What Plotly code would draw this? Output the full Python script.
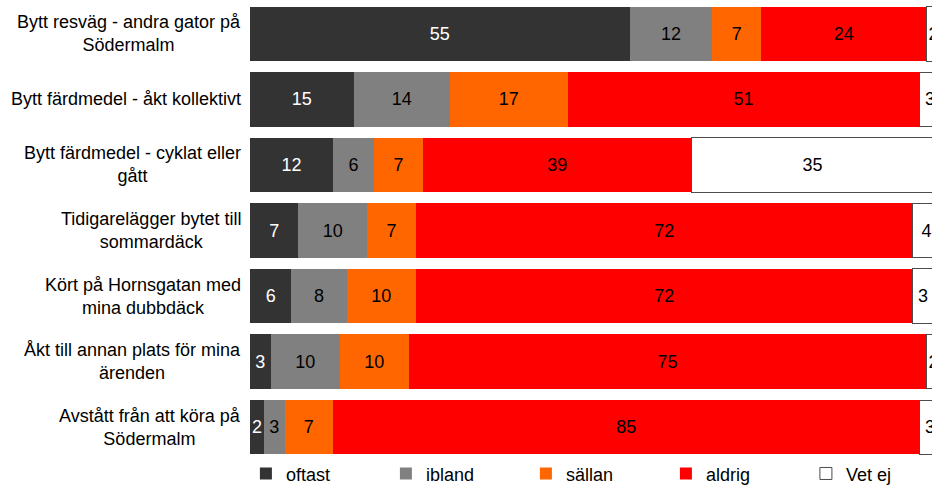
import plotly.graph_objects as go

# Survey statements (top to bottom) and answer shares in percent
categories = [
    "Bytt resväg - andra gator på<br>Södermalm",
    "Bytt färdmedel - åkt kollektivt",
    "Bytt färdmedel - cyklat eller<br>gått",
    "Tidigarelägger bytet till<br>sommardäck",
    "Kört på Hornsgatan med<br>mina dubbdäck",
    "Åkt till annan plats för mina<br>ärenden",
    "Avstått från att köra på<br>Södermalm",
]

oftast = [55, 15, 12, 7, 6, 3, 2]
ibland = [12, 14, 6, 10, 8, 10, 3]
sallan = [7, 17, 7, 7, 10, 10, 7]
aldrig = [24, 51, 39, 72, 72, 75, 85]
vet_ej = [2, 3, 35, 4, 3, 2, 3]

series = [
    ("oftast", oftast, "#333333", "white", 0, "#333333"),
    ("ibland", ibland, "#808080", "black", 0, "#808080"),
    ("sällan", sallan, "#FF6600", "black", 0, "#FF6600"),
    ("aldrig", aldrig, "#FF0000", "black", 0, "#FF0000"),
    ("Vet ej", vet_ej, "#FFFFFF", "black", 1, "#4d4d4d"),
]

FONT = "Liberation Sans, Arial, sans-serif"
FS = 18

fig = go.Figure()
for name, vals, color, tcolor, lw, lcolor in series:
    fig.add_trace(go.Bar(
        name=name,
        y=categories,
        x=vals,
        orientation="h",
        marker=dict(color=color, line=dict(width=lw, color=lcolor)),
        text=[str(v) for v in vals],
        textposition="inside",
        insidetextanchor="middle",
        textangle=0,
        textfont=dict(family=FONT, size=FS, color=tcolor),
        cliponaxis=True,
        hoverinfo="skip",
    ))

# Category labels: centred lines, block right-aligned next to the bars
for cat in categories:
    fig.add_annotation(
        x=0, xref="paper", xanchor="right", xshift=-7,
        y=cat, yref="y", yanchor="middle",
        text=cat, align="center", showarrow=False,
        font=dict(family=FONT, size=FS, color="black"),
    )

fig.update_layout(
    width=932, height=487,
    margin=dict(l=250, r=0, t=1, b=27, autoexpand=False),
    barmode="stack",
    bargap=0.17,
    plot_bgcolor="white",
    paper_bgcolor="white",
    font=dict(family=FONT, size=FS, color="black"),
    uniformtext=dict(minsize=FS, mode="show"),
    xaxis=dict(range=[0, 98.8], visible=False, fixedrange=True),
    yaxis=dict(
        categoryorder="array", categoryarray=categories,
        autorange="reversed", showticklabels=False,
        showgrid=False, zeroline=False, showline=False, ticks="",
    ),
    legend=dict(
        orientation="h",
        x=-0.006, xanchor="left",
        y=-0.03, yanchor="middle",
        entrywidth=95, entrywidthmode="pixels",
        itemwidth=30,
        font=dict(family=FONT, size=FS, color="black"),
        traceorder="normal",
    ),
    showlegend=True,
)

fig.write_html("out.html")
